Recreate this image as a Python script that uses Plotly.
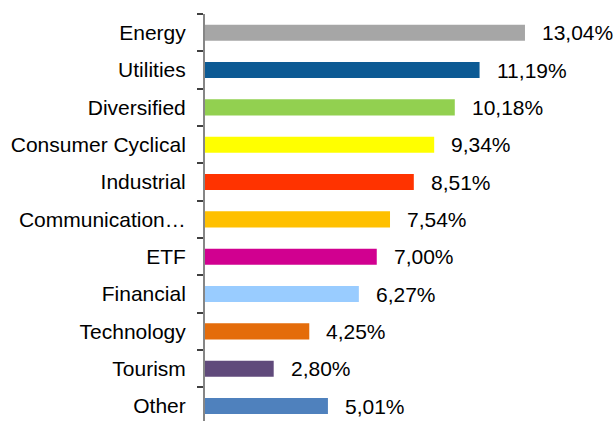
import plotly.graph_objects as go

categories = ["Energy", "Utilities", "Diversified", "Consumer Cyclical", "Industrial",
              "Communication…", "ETF", "Financial", "Technology", "Tourism", "Other"]
values = [13.04, 11.19, 10.18, 9.34, 8.51, 7.54, 7.00, 6.27, 4.25, 2.80, 5.01]
colors = ["#A6A6A6", "#0C5A94", "#92D050", "#FFFF00", "#FF3300", "#FFC000",
          "#D10090", "#99CCFF", "#E46C0A", "#604A7B", "#4F81BD"]
labels = [f"{v:.2f}%".replace(".", ",") for v in values]

FONT = "Liberation Sans, Arial"

fig = go.Figure(go.Bar(
    x=values, y=categories, orientation="h",
    marker=dict(color=colors, line=dict(width=0)),
    width=0.43, hoverinfo="x+y",
))

for v, c, t in zip(values, categories, labels):
    fig.add_annotation(x=v, y=c, text=t, showarrow=False, xanchor="left",
                       yanchor="middle", xshift=15,
                       font=dict(family=FONT, size=21, color="#000000"))

fig.update_layout(
    width=616, height=421,
    margin=dict(l=205, r=0, t=14, b=0),
    plot_bgcolor="white", paper_bgcolor="white",
    showlegend=False,
    font=dict(family=FONT, size=21, color="#000000"),
)
fig.update_xaxes(visible=False, range=[0, 16.75])
fig.update_yaxes(
    categoryorder="array", categoryarray=categories,
    range=[10.40, -0.5],
    showline=True, linecolor="#868686", linewidth=2,
    ticks="outside", tickson="boundaries", ticklen=6, tickcolor="#404040", tickwidth=1.5,
    showgrid=False, zeroline=False,
    tickfont=dict(family=FONT, size=21, color="#000000"),
    ticklabelstandoff=13,
)

fig.write_html("out.html")
